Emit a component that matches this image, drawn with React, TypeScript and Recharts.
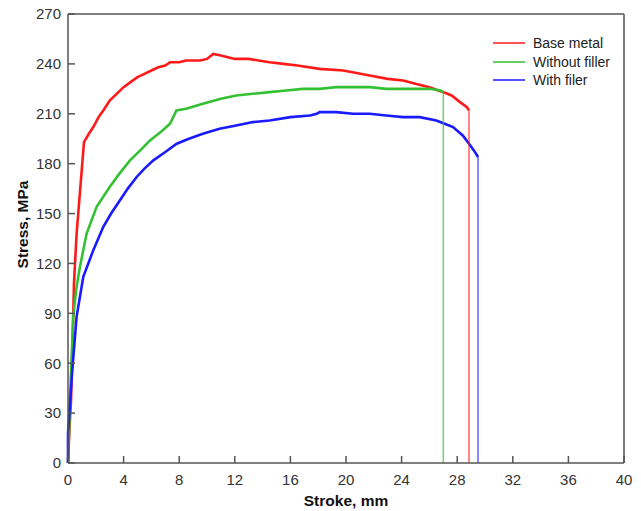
import { LineChart, XAxis, YAxis, Line, Legend, ReferenceLine } from 'recharts';

const strokeTicks = [0, 4, 8, 12, 16, 20, 24, 28, 32, 36, 40];
const stressTicks = [0, 30, 60, 90, 120, 150, 180, 210, 240, 270];

// Base metal
const baseStroke = [0, 0.1, 0.22, 0.38, 0.43, 0.62, 0.91, 1.15, 1.5, 1.82, 2.2, 2.54, 3.0, 3.5, 4.0, 4.5, 5.0, 5.5, 6.0, 6.5, 7.0, 7.34, 8.0, 8.5, 9.0, 9.5, 10.0, 10.45, 11.0, 11.5, 12.0, 13.0, 14.5, 15.5, 16.5, 18.1, 19.8, 21.7, 23.0, 24.1, 25.0, 26.0, 27.0, 27.6, 28.2, 28.7, 28.85, 28.85];
const baseStress = [0, 20, 38, 90, 108, 138, 168, 193, 198, 202, 208, 212, 218, 222, 226, 229, 232, 234, 236, 238, 239, 241, 241, 242, 242, 242, 243, 246, 245, 244, 243, 243, 241, 240, 239, 237, 236, 233, 231, 230, 228, 226, 223, 221, 217, 214, 212, 0];

// Without filler
const noFillerStroke = [0, 0.1, 0.2, 0.38, 0.6, 0.86, 1.34, 2.06, 3.0, 3.7, 4.46, 5.2, 5.9, 6.8, 7.34, 7.8, 8.5, 9.7, 11.0, 12.1, 13.3, 14.5, 15.7, 16.9, 18.1, 19.3, 20.5, 21.7, 22.9, 24.1, 25.0, 26.0, 26.8, 27.0, 27.0];
const noFillerStress = [0, 25, 50, 88, 105, 118, 138, 154, 166, 174, 182, 188, 194, 200, 204, 212, 213, 216, 219, 221, 222, 223, 224, 225, 225, 226, 226, 226, 225, 225, 225, 225, 224, 223, 0];

// With filer
const fillerStroke = [0, 0, 0.1, 0.3, 0.62, 1.1, 1.82, 2.54, 3.1, 3.74, 4.3, 4.94, 5.5, 6.14, 7.0, 7.82, 8.7, 9.7, 10.9, 12.1, 13.3, 14.5, 16.0, 17.4, 17.9, 18.1, 19.3, 20.5, 21.7, 22.9, 24.1, 25.3, 26.5, 27.1, 27.7, 28.4, 28.85, 29.2, 29.5, 29.5];
const fillerStress = [0, 18, 30, 55, 88, 112, 128, 142, 150, 158, 165, 172, 177, 182, 187, 192, 195, 198, 201, 203, 205, 206, 208, 209, 210, 211, 211, 210, 210, 209, 208, 208, 206, 204, 202, 197, 192, 188, 184, 0];

const toPoints = (xs: number[], ys: number[]) => xs.map((x, i) => ({ x, y: ys[i] }));

const series = [
  { name: 'Base metal', color: '#ff1a1a', points: toPoints(baseStroke, baseStress) },
  { name: 'Without filler', color: '#33c133', points: toPoints(noFillerStroke, noFillerStress) },
  { name: 'With filer', color: '#1a1aff', points: toPoints(fillerStroke, fillerStress) },
];

const font = '"Liberation Sans", Arial, sans-serif';
const axisColor = '#555';

// legend entries in series order, drop segments left out
const LegendBox = () => (
  <div style={{ fontFamily: font, fontSize: 14, color: '#222' }}>
    {series.map((s) => (
      <div key={s.name} style={{ display: 'flex', alignItems: 'center', height: 18.5 }}>
        <svg width={32} height={4} style={{ display: 'block' }}>
          <line x1={0} y1={2} x2={32} y2={2} stroke={s.color} strokeWidth={1.5} />
        </svg>
        <span style={{ marginLeft: 8, lineHeight: '18px' }}>{s.name}</span>
      </div>
    ))}
  </div>
);

const YLabel = ({ viewBox }: any) => {
  const cx = viewBox.x + 22;
  const cy = viewBox.y + viewBox.height / 2 - 14;
  return (
    <text x={cx} y={cy} transform={`rotate(-90, ${cx}, ${cy})`} textAnchor="middle" dominantBaseline="central"
      fontFamily={font} fontSize={15.5} fontWeight="bold" fill="#111">
      Stress, MPa
    </text>
  );
};

const XLabel = ({ viewBox }: any) => (
  <text x={viewBox.x + viewBox.width / 2} y={viewBox.y + 43} textAnchor="middle"
    fontFamily={font} fontSize={15.5} fontWeight="bold" fill="#111">
    Stroke, mm
  </text>
);

const StressStrokeChart = () => {
  return (
    <div style={{ position: 'absolute', left: 0, top: 0, background: '#fff' }}>
      <LineChart width={641} height={511} margin={{ top: 14, right: 17, left: 0, bottom: 0 }}>
        <XAxis
          type="number"
          dataKey="x"
          domain={[0, 40]}
          ticks={strokeTicks}
          height={48}
          tickSize={-7}
          tickMargin={18}
          stroke={axisColor}
          strokeWidth={1.5}
          tick={{ fontSize: 15, fill: '#333', fontFamily: font }}
          label={{ content: XLabel }}
          allowDuplicatedCategory={false}
        />
        <YAxis
          type="number"
          dataKey="y"
          domain={[0, 270]}
          ticks={stressTicks}
          width={68}
          tickSize={-7}
          tickMargin={14}
          stroke={axisColor}
          strokeWidth={1.5}
          tick={{ fontSize: 15, fill: '#333', fontFamily: font }}
          label={{ content: YLabel }}
        />
        <ReferenceLine y={270} stroke={axisColor} strokeWidth={1.5} />
        <ReferenceLine x={40} stroke={axisColor} strokeWidth={1.5} />
        {series.map((s) => (
          <Line
            key={s.name}
            name={s.name}
            data={s.points.slice(0, -1)}
            dataKey="y"
            type="linear"
            stroke={s.color}
            strokeWidth={2.6}
            dot={false}
            isAnimationActive={false}
          />
        ))}
        {series.map((s) => (
          <Line
            key={s.name + '-drop'}
            data={s.points.slice(-2)}
            dataKey="y"
            type="linear"
            stroke={s.color}
            strokeOpacity={0.7}
            strokeWidth={1.5}
            dot={false}
            legendType="none"
            isAnimationActive={false}
          />
        ))}
        <Legend
          layout="vertical"
          align="center"
          verticalAlign="middle"
          content={LegendBox}
          wrapperStyle={{ top: 34, left: 493, width: 140 }}
        />
      </LineChart>
    </div>
  );
};

export default function App() {
  return <StressStrokeChart />;
}
